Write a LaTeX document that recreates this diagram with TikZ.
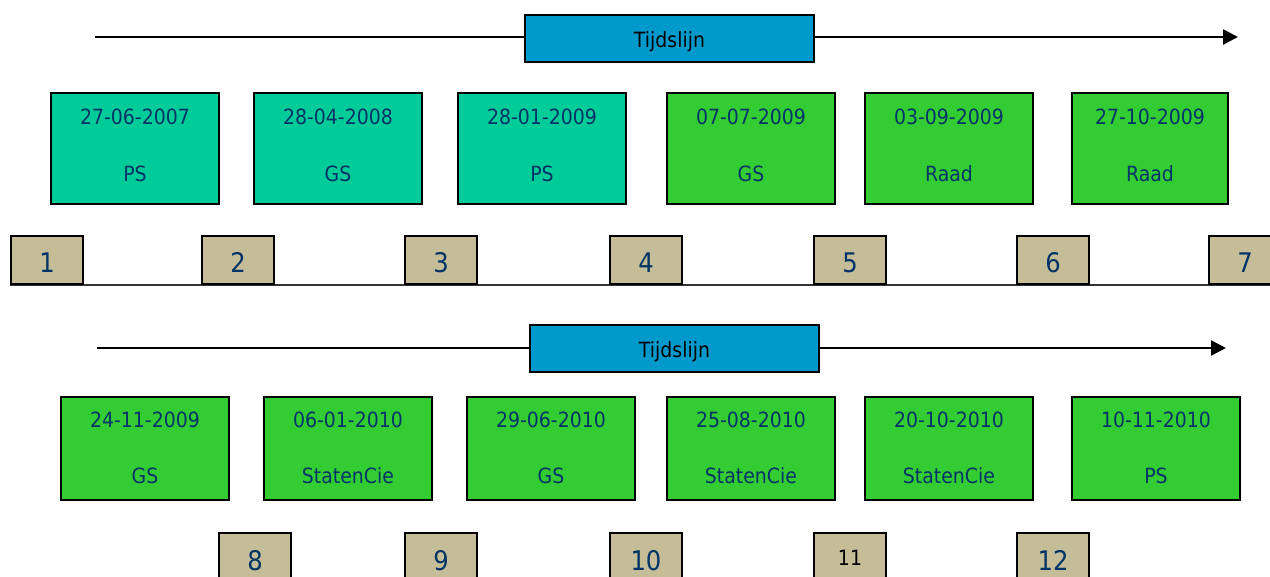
\documentclass[tikz,border=0pt]{standalone}
\usepackage{fontspec}
\setmainfont{DejaVu Sans}[FakeStretch=0.9]
\usetikzlibrary{arrows.meta}
\definecolor{tealbox}{RGB}{0,204,153}
\definecolor{greenbox}{RGB}{51,204,51}
\definecolor{bluebox}{RGB}{0,153,204}
\definecolor{tanbox}{RGB}{196,189,151}
\definecolor{navytxt}{RGB}{0,51,102}
\tikzset{
  evbox/.style={draw=black, line width=2pt, anchor=north west, minimum width=168pt, inner sep=0pt},
  rowone/.style={evbox, minimum height=111pt},
  rowtwo/.style={evbox, minimum height=103pt},
  evtxt/.style={anchor=base, inner sep=0pt, text=navytxt, font=\fontsize{21}{24}\selectfont},
  numbox/.style={draw=black, line width=2pt, anchor=north west, minimum width=72pt, minimum height=48pt, inner sep=0pt, fill=tanbox},
  numtxt/.style={anchor=base, inner sep=0pt, text=navytxt, font=\fontsize{27}{30}\selectfont},
  tlbox/.style={draw=black, line width=2pt, fill=bluebox, anchor=north west, minimum width=289pt, minimum height=47pt, inner sep=0pt},
  tltxt/.style={anchor=base, inner sep=0pt, text=black, font=\fontsize{21}{24}\selectfont},
  tlarrow/.style={line width=2.5pt, -{Triangle[length=15pt,width=15pt]}},
  baseline line/.style={line width=2pt, draw=black!80}
}
\begin{document}
\begin{tikzpicture}[x=1pt,y=-1pt]
\useasboundingbox (0,0) rectangle (1270,577);
\clip (0,0) rectangle (1270,577);
% ---------- top timeline ----------
\coordinate (s1) at (95,37);
\coordinate (e1) at (1238,37);
\draw[tlarrow] (s1) -- (e1);
\node[tlbox] (t1) at (524,14) {};
\node[tltxt] (tt1) at ([yshift=-9pt]t1.center) {Tijdslijn};
% row one event boxes
\node[rowone, fill=tealbox] (b1) at (50,92) {};
\node[rowone, fill=tealbox] (b2) at (253,92) {};
\node[rowone, fill=tealbox] (b3) at (457,92) {};
\node[rowone, fill=greenbox] (b4) at (666,92) {};
\node[rowone, fill=greenbox] (b5) at (864,92) {};
\node[rowone, fill=greenbox, minimum width=156pt] (b6) at (1071,92) {};
\foreach \i/\d/\l in {1/27-06-2007/PS, 2/28-04-2008/GS, 3/28-01-2009/PS, 4/07-07-2009/GS, 5/03-09-2009/Raad, 6/27-10-2009/Raad}{
  \node[evtxt] (bd\i) at ([yshift=-33pt]b\i.north) {\d};
  \node[evtxt] (bl\i) at ([yshift=-90pt]b\i.north) {\l};
}
% row one number boxes
\node[numbox] (n1) at (10,235) {};
\node[numbox] (n2) at (201,235) {};
\node[numbox] (n3) at (404,235) {};
\node[numbox] (n4) at (609,235) {};
\node[numbox] (n5) at (813,235) {};
\node[numbox] (n6) at (1016,235) {};
\node[numbox] (n7) at (1208,235) {};
\draw[baseline line] (n1.south west) -- (n7.south east);
\foreach \i in {1,...,7}{
  \node[numbox] at (n\i.north west) {};
  \node[numtxt] (nt\i) at ([yshift=-38pt]n\i.north) {\i};
}
% ---------- second timeline ----------
\coordinate (s2) at (97,348);
\coordinate (e2) at (1226,348);
\draw[tlarrow] (s2) -- (e2);
\node[tlbox] (t2) at (529,324) {};
\node[tltxt] (tt2) at ([yshift=-9pt]t2.center) {Tijdslijn};
% row two event boxes
\node[rowtwo, fill=greenbox] (c1) at (60,396) {};
\node[rowtwo, fill=greenbox] (c2) at (263,396) {};
\node[rowtwo, fill=greenbox] (c3) at (466,396) {};
\node[rowtwo, fill=greenbox] (c4) at (666,396) {};
\node[rowtwo, fill=greenbox] (c5) at (864,396) {};
\node[rowtwo, fill=greenbox] (c6) at (1071,396) {};
\foreach \i/\d/\l in {1/24-11-2009/GS, 2/06-01-2010/StatenCie, 3/29-06-2010/GS, 4/25-08-2010/StatenCie, 5/20-10-2010/StatenCie, 6/10-11-2010/PS}{
  \node[evtxt] (cd\i) at ([yshift=-32pt]c\i.north) {\d};
  \node[evtxt] (cl\i) at ([yshift=-87pt]c\i.north) {\l};
}
% row two number boxes
\node[numbox] (m8) at (218,532) {};
\node[numbox] (m9) at (404,532) {};
\node[numbox] (m10) at (609,532) {};
\node[numbox] (m11) at (813,532) {};
\node[numbox] (m12) at (1016,532) {};
\node[numtxt] (mt8) at ([yshift=-38pt]m8.north) {8};
\node[numtxt] (mt9) at ([yshift=-38pt]m9.north) {9};
\node[numtxt] (mt10) at ([yshift=-38pt]m10.north) {10};
\node[numtxt, text=black, font=\fontsize{21}{24}\selectfont] (mt11) at ([yshift=-33pt]m11.north) {11};
\node[numtxt] (mt12) at ([yshift=-38pt]m12.north) {12};
\end{tikzpicture}
\end{document}
